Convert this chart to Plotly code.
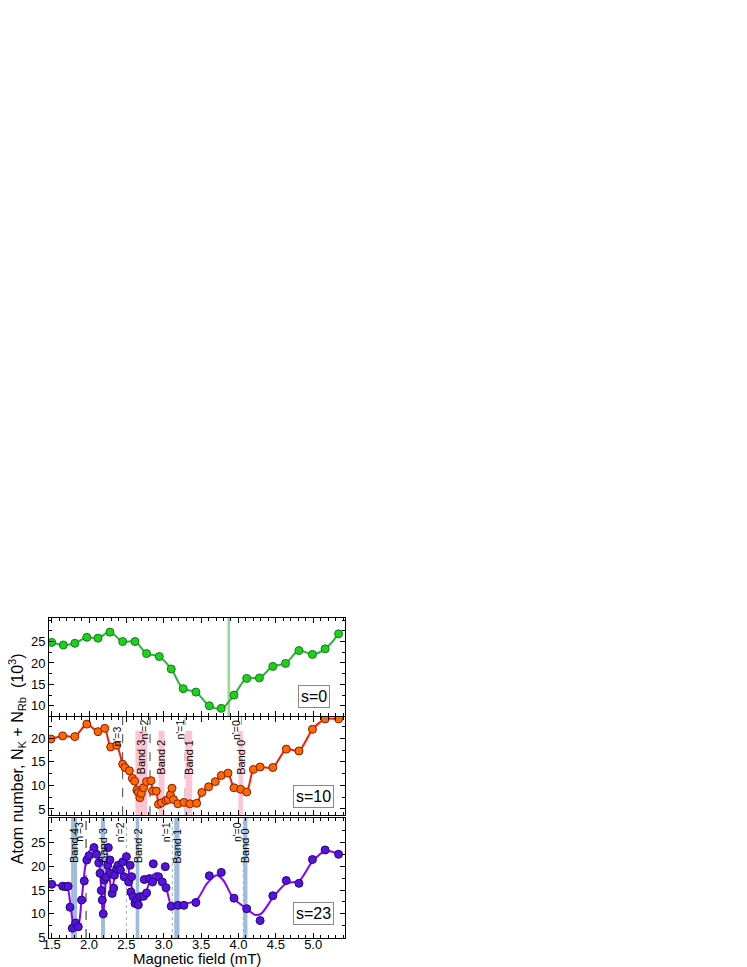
import plotly.graph_objects as go
from plotly.subplots import make_subplots

# ---------------- data ----------------
# s = 0
b0 = [1.50, 1.656, 1.81, 1.97, 2.12, 2.28, 2.45, 2.615, 2.77, 2.94, 3.10, 3.26, 3.43, 3.61,
      3.77, 3.94, 4.11, 4.28, 4.46, 4.63, 4.81, 4.99, 5.16, 5.34]
n0 = [24.8, 24.2, 24.6, 26.0, 25.8, 27.2, 25.0, 25.0, 22.2, 21.5, 18.6, 14.0, 13.2, 10.0,
      9.4, 12.5, 16.4, 16.5, 19.2, 19.9, 22.9, 22.0, 23.3, 26.8]
resonance0 = 3.87

# s = 10
b10 = [1.49, 1.647, 1.81, 1.97, 2.12, 2.21, 2.29, 2.37, 2.45, 2.48, 2.54, 2.58, 2.61, 2.64,
       2.66, 2.68, 2.70, 2.73, 2.77, 2.83, 2.85, 2.90, 2.93, 2.97, 3.03, 3.06, 3.09, 3.11,
       3.13, 3.19, 3.27, 3.35, 3.44, 3.51, 3.60, 3.69, 3.77, 3.86, 3.94, 4.03, 4.11, 4.20,
       4.29, 4.46, 4.64, 4.81, 4.99, 5.16, 5.34]
n10 = [19.85, 20.5, 20.35, 23.0, 21.4, 22.1, 18.15, 18.5, 14.5, 13.8, 13.1, 11.5, 10.9, 9.0,
       8.5, 7.4, 8.3, 9.5, 10.8, 11.0, 8.8, 8.8, 6.0, 6.3, 6.8, 7.0, 8.0, 9.4,
       7.0, 6.1, 6.4, 6.1, 6.2, 8.5, 9.7, 10.8, 12.1, 12.6, 9.5, 9.2, 8.6, 13.4,
       13.9, 13.8, 17.7, 17.3, 21.9, 24.1, 24.1]
bands10_lo = [2.62, 2.93, 3.29, 4.00]
bands10_hi = [2.78, 3.01, 3.38, 4.06]
bands10_names = ["Band 3", "Band 2", "Band 1", "Band 0"]
bands10_top = 21.6
nprime10 = [2.45, 2.816, 3.285, 4.04]
nprime10_names = ["n'=3", "n'=2", "n'=1", "n'=0"]

# s = 23
b23 = [1.50, 1.647, 1.69, 1.72, 1.745, 1.776, 1.82, 1.856, 1.90, 1.936, 1.97, 2.00, 2.066,
       2.10, 2.13, 2.147, 2.164, 2.177, 2.19, 2.204, 2.227, 2.25, 2.258, 2.28, 2.29, 2.31,
       2.33, 2.34, 2.37, 2.39, 2.42, 2.45, 2.47, 2.50, 2.53, 2.55, 2.56, 2.57, 2.59, 2.615,
       2.64, 2.66, 2.68, 2.73, 2.74, 2.77, 2.81, 2.85, 2.86, 2.93, 2.98, 3.02, 3.03, 3.10,
       3.19, 3.27, 3.43, 3.61, 3.77, 3.94, 4.11, 4.29, 4.46, 4.64, 4.81, 4.99, 5.16, 5.34]
n23 = [16.2, 15.8, 15.7, 15.8, 11.4, 7.0, 8.1, 7.3, 12.9, 16.9, 21.3, 22.2, 23.9,
       22.5, 20.7, 18.5, 14.9, 12.9, 10.0, 17.1, 17.7, 20.2, 23.9, 21.3, 18.5, 14.3,
       15.4, 18.1, 19.5, 20.2, 19.2, 20.9, 17.8, 22.0, 16.7, 20.2, 14.6, 17.8, 13.6, 12.2,
       12.9, 11.9, 13.6, 13.7, 17.2, 14.4, 17.4, 16.7, 20.5, 17.8, 16.7, 19.9, 15.5, 11.6,
       11.8, 11.8, 12.4, 18.0, 18.7, 13.3, 11.1, 8.6, 13.8, 17.0, 16.4, 21.4, 23.4, 22.5]
# smooth guide curve for s = 23
c23x = [1.46, 1.55, 1.70, 1.75, 1.80, 1.85, 1.90, 1.96, 2.02, 2.08, 2.14, 2.17, 2.19, 2.22,
        2.245, 2.27, 2.30, 2.37, 2.44, 2.50, 2.55, 2.60, 2.65, 2.71, 2.77, 2.84, 2.90, 2.97,
        3.04, 3.10, 3.17, 3.31, 3.44, 3.58, 3.71, 3.80, 3.93, 4.10, 4.22, 4.30, 4.47, 4.64,
        4.81, 4.99, 5.16, 5.34]
c23y = [16.3, 16.0, 15.9, 12.0, 7.5, 7.3, 12.9, 21.0, 23.5, 23.5, 20.0, 13.0, 9.8, 16.0,
        22.7, 18.5, 15.0, 19.2, 20.6, 21.3, 17.1, 14.0, 12.9, 13.6, 15.0, 17.8, 18.5, 17.5,
        15.0, 11.9, 11.9, 12.2, 12.9, 16.4, 18.1, 17.0, 13.3, 11.2, 9.8, 10.0, 13.6, 16.4,
        16.9, 21.0, 23.2, 22.6]
bands23_lo = [1.76, 2.16, 2.624, 3.14, 4.065]
bands23_hi = [1.84, 2.214, 2.672, 3.21, 4.12]
bands23_names = ["Band 4", "Band 3", "Band 2", "Band 1", "Band 0"]
nprime23 = [1.96, 2.50, 3.115, 4.065]
nprime23_names = ["n'=3", "n'=2", "n'=1", "n'=0"]

x_ticks = [1.5, 2.0, 2.5, 3.0, 3.5, 4.0, 4.5, 5.0]
x_tick_text = ["1.5", "2.0", "2.5", "3.0", "3.5", "4.0", "4.5", "5.0"]

# ---------------- figure ----------------
FONT = "Liberation Sans, Arial, sans-serif"
fig = make_subplots(rows=3, cols=1, shared_xaxes=False, vertical_spacing=0.01)

fig.add_trace(go.Scatter(x=b0, y=n0, mode="lines+markers",
                         line=dict(color="#2db33d", width=2, shape="spline", smoothing=1.0),
                         marker=dict(size=8, color="#1fd11f", line=dict(color="#137a13", width=1)),
                         showlegend=False), row=1, col=1)
fig.add_trace(go.Scatter(x=b10, y=n10, mode="lines+markers",
                         line=dict(color="#ff1a00", width=2, shape="spline", smoothing=0.7),
                         marker=dict(size=8, color="#ff6a00", line=dict(color="#8a1a00", width=1)),
                         showlegend=False), row=2, col=1)
fig.add_trace(go.Scatter(x=c23x, y=c23y, mode="lines",
                         line=dict(color="#8a00ff", width=2, shape="spline", smoothing=0.8),
                         showlegend=False), row=3, col=1)
fig.add_trace(go.Scatter(x=b23, y=n23, mode="markers",
                         marker=dict(size=8, color="#5a10e0", line=dict(color="#1a0a70", width=1)),
                         showlegend=False), row=3, col=1)

# green resonance line (top)
fig.add_shape(type="line", xref="x", yref="y domain", x0=resonance0, x1=resonance0, y0=0, y1=1,
              line=dict(color="#8fdc8f", width=2.5), layer="below")

# middle panel bands and n' lines
for lo, hi, name in zip(bands10_lo, bands10_hi, bands10_names):
    fig.add_shape(type="rect", xref="x2", yref="y2", x0=lo, x1=hi, y0=0, y1=bands10_top,
                  fillcolor="#ffc4d2", line=dict(width=0), layer="below")
    fig.add_annotation(x=(lo + hi) / 2, y=16.0, xref="x2", yref="y2", text=name,
                       textangle=-90, showarrow=False, xanchor="center", yanchor="middle",
                       font=dict(size=11, color="black", family=FONT))
for i, (xv, name) in enumerate(zip(nprime10, nprime10_names)):
    col = "#444444" if i < 2 else "#999999"
    fig.add_shape(type="line", xref="x2", yref="y2 domain", x0=xv, x1=xv, y0=0, y1=1,
                  line=dict(color=col, width=1, dash="dash"), layer="below")
    fig.add_annotation(x=xv, y=0.995 if i > 0 else 0.92, xref="x2", yref="y2 domain", text=name,
                       textangle=-90, showarrow=False, xanchor="right", yanchor="top",
                       xshift=2, font=dict(size=10.5, color="black", family=FONT))

# bottom panel bands and n' lines
for lo, hi, name in zip(bands23_lo, bands23_hi, bands23_names):
    fig.add_shape(type="rect", xref="x3", yref="y3 domain", x0=lo, x1=hi, y0=0, y1=1,
                  fillcolor="#9fbcdc", line=dict(width=0), layer="below")
    fig.add_annotation(x=(lo + hi) / 2, y=0.93, xref="x3", yref="y3 domain", text=name,
                       textangle=-90, showarrow=False, xanchor="center", yanchor="top",
                       font=dict(size=11, color="black", family=FONT))
for i, (xv, name) in enumerate(zip(nprime23, nprime23_names)):
    col = "#222222" if i == 0 else "#aaaaaa"
    fig.add_shape(type="line", xref="x3", yref="y3 domain", x0=xv, x1=xv, y0=0, y1=1,
                  line=dict(color=col, width=1, dash="dash" if i == 0 else "dot"), layer="below")
    fig.add_annotation(x=xv, y=0.985, xref="x3", yref="y3 domain", text=name,
                       textangle=-90, showarrow=False, xanchor="right", yanchor="top",
                       xshift=1, font=dict(size=10.5, color="black", family=FONT))

# s= labels
for ref, yv, txt in [("", 12.1, "s=0"), ("2", 7.64, "s=10"), ("3", 10.07, "s=23")]:
    fig.add_annotation(x=5.01, y=yv, xref="x" + ref, yref="y" + ref, text=txt, showarrow=False,
                       xanchor="center", yanchor="middle",
                       font=dict(size=16, color="black", family=FONT),
                       bordercolor="#888888", borderwidth=1, borderpad=2, bgcolor="white")

# axes titles
fig.add_annotation(x=-0.108, y=0.559, xref="paper", yref="paper",
                   text="Atom number, N<sub>K</sub> + N<sub>Rb</sub>  (10<sup>3</sup>)",
                   textangle=-90, showarrow=False, xanchor="center", yanchor="middle",
                   font=dict(size=16, color="black", family=FONT))
fig.add_annotation(x=0.5, y=-0.0625, xref="paper", yref="paper", text="Magnetic field (mT)",
                   showarrow=False, xanchor="center", yanchor="middle",
                   font=dict(size=15, color="black", family=FONT))

common_x = dict(range=[1.464, 5.426], showline=True, linecolor="black", linewidth=1, mirror="ticks",
                ticks="inside", ticklen=5, tickcolor="black", tickvals=x_ticks, ticktext=x_tick_text,
                minor=dict(ticks="inside", ticklen=3, dtick=0.1, tickcolor="black"),
                ticklabelstandoff=-6,
                showgrid=False, zeroline=False, tickfont=dict(size=13, color="black", family=FONT))
common_y = dict(showline=True, linecolor="black", linewidth=1, mirror="ticks",
                ticks="inside", ticklen=5, tickcolor="black", dtick=5,
                minor=dict(ticks="inside", ticklen=3, dtick=2.5, tickcolor="black"),
                showgrid=False, zeroline=False, tickfont=dict(size=13, color="black", family=FONT))

# the page body adds an 8px margin, so the figure is shrunk/shifted to compensate
fig.update_layout(
    width=739, height=959,
    margin=dict(l=41, r=402, t=610, b=29, autoexpand=False),
    paper_bgcolor="white", plot_bgcolor="white",
    font=dict(family=FONT, color="black"),
    xaxis=dict(common_x, showticklabels=False, anchor="y"),
    xaxis2=dict(common_x, showticklabels=False, anchor="y2"),
    xaxis3=dict(common_x, showticklabels=True, anchor="y3"),
    yaxis=dict(common_y, range=[7.6, 30.5], tickvals=[10, 15, 20, 25], domain=[0.6935, 1.0]),
    yaxis2=dict(common_y, range=[3.7, 24.5], tickvals=[5, 10, 15, 20], domain=[0.384, 0.6905]),
    yaxis3=dict(common_y, range=[4.95, 30.1], tickvals=[5, 10, 15, 20, 25], domain=[0.0, 0.375]),
)

fig.write_html("out.html")
